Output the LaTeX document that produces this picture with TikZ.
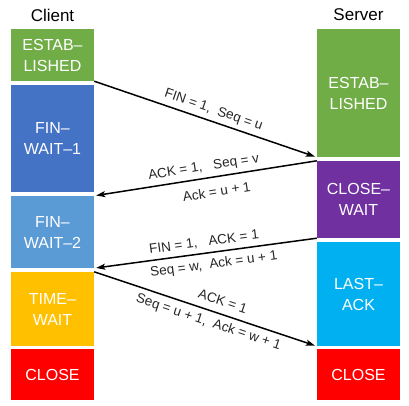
\documentclass[tikz,border=0pt]{standalone}
\usepackage{fontspec}
\setmainfont{Liberation Sans}
\usetikzlibrary{arrows.meta}
\definecolor{estgreen}{HTML}{70AD47}
\definecolor{fwoneblue}{HTML}{4472C4}
\definecolor{fwtwoblue}{HTML}{5B9BD5}
\definecolor{twyellow}{HTML}{FFC000}
\definecolor{closered}{HTML}{FF0000}
\definecolor{cwpurple}{HTML}{7030A0}
\definecolor{lacyan}{HTML}{00B0F0}

\begin{document}
\begin{tikzpicture}[x=1pt,y=-1pt,
        phase/.style={fill=#1, text=white, minimum width=83pt, inner sep=0pt, align=center, font=\fontsize{16}{21}\selectfont},
        side/.style={font=\fontsize{17}{20}\selectfont},
        msg/.style={line width=1.5pt, -{Stealth[length=9pt,width=6pt,inset=2pt]}, shorten >=2pt},
        lbl/.style={sloped, inner sep=1pt, text=black!85, font=\fontsize{13.5}{16}\selectfont}]
        \useasboundingbox (0,0) rectangle (409,405);
        \node[side] (client) at (52.5,15) {Client};
        \node[side] (server) at (358.5,15) {Server};
        % client side
        \node[phase=estgreen, minimum height=52pt] (cest) at (52.5,55) {ESTAB--\\LISHED};
        \node[phase=fwoneblue, minimum height=107pt] (cfw1) at (52.5,138.5) {FIN--\\WAIT--1};
        \node[phase=fwtwoblue, minimum height=72pt] (cfw2) at (52.5,232) {FIN--\\WAIT--2};
        \node[phase=twyellow, minimum height=74pt] (ctw) at (52.5,309) {TIME--\\WAIT};
        \node[phase=closered, minimum height=51pt] (ccl) at (52.5,374.5) {CLOSE};
        % server side
        \node[phase=estgreen, minimum height=128pt] (sest) at (358.5,93) {ESTAB--\\LISHED};
        \node[phase=cwpurple, minimum height=77pt] (scw) at (358.5,199.5) {CLOSE--\\WAIT};
        \node[phase=lacyan, minimum height=104pt] (sla) at (358.5,294) {LAST--\\ACK};
        \node[phase=closered, minimum height=51pt] (scl) at (358.5,374.5) {CLOSE};
        % messages
        \draw[msg] (cest.south east) -- (sest.south west)
            node[lbl, pos=.52, above=3pt] {FIN = 1,\ \ Seq = u};
        \draw[msg] (scw.north west) -- (cfw2.north east)
            node[lbl, pos=.5, above=3pt] {ACK = 1,\ \ \ Seq = v}
            node[lbl, pos=.46, below=8pt] {Ack = u + 1};
        \draw[msg] (scw.south west) -- (cfw2.south east)
            node[lbl, pos=.5, above=3.5pt] {FIN = 1,\ \ \ ACK = 1}
            node[lbl, pos=.47, below=4.5pt] {Seq = w,\ \ Ack = u + 1};
        \draw[msg] (ctw.north east) -- (sla.south west)
            node[lbl, pos=.56, above=6pt] {ACK = 1}
            node[lbl, pos=.53, below=4pt] {Seq = u + 1,\ \ Ack = w + 1};
    \end{tikzpicture}
\end{document}
